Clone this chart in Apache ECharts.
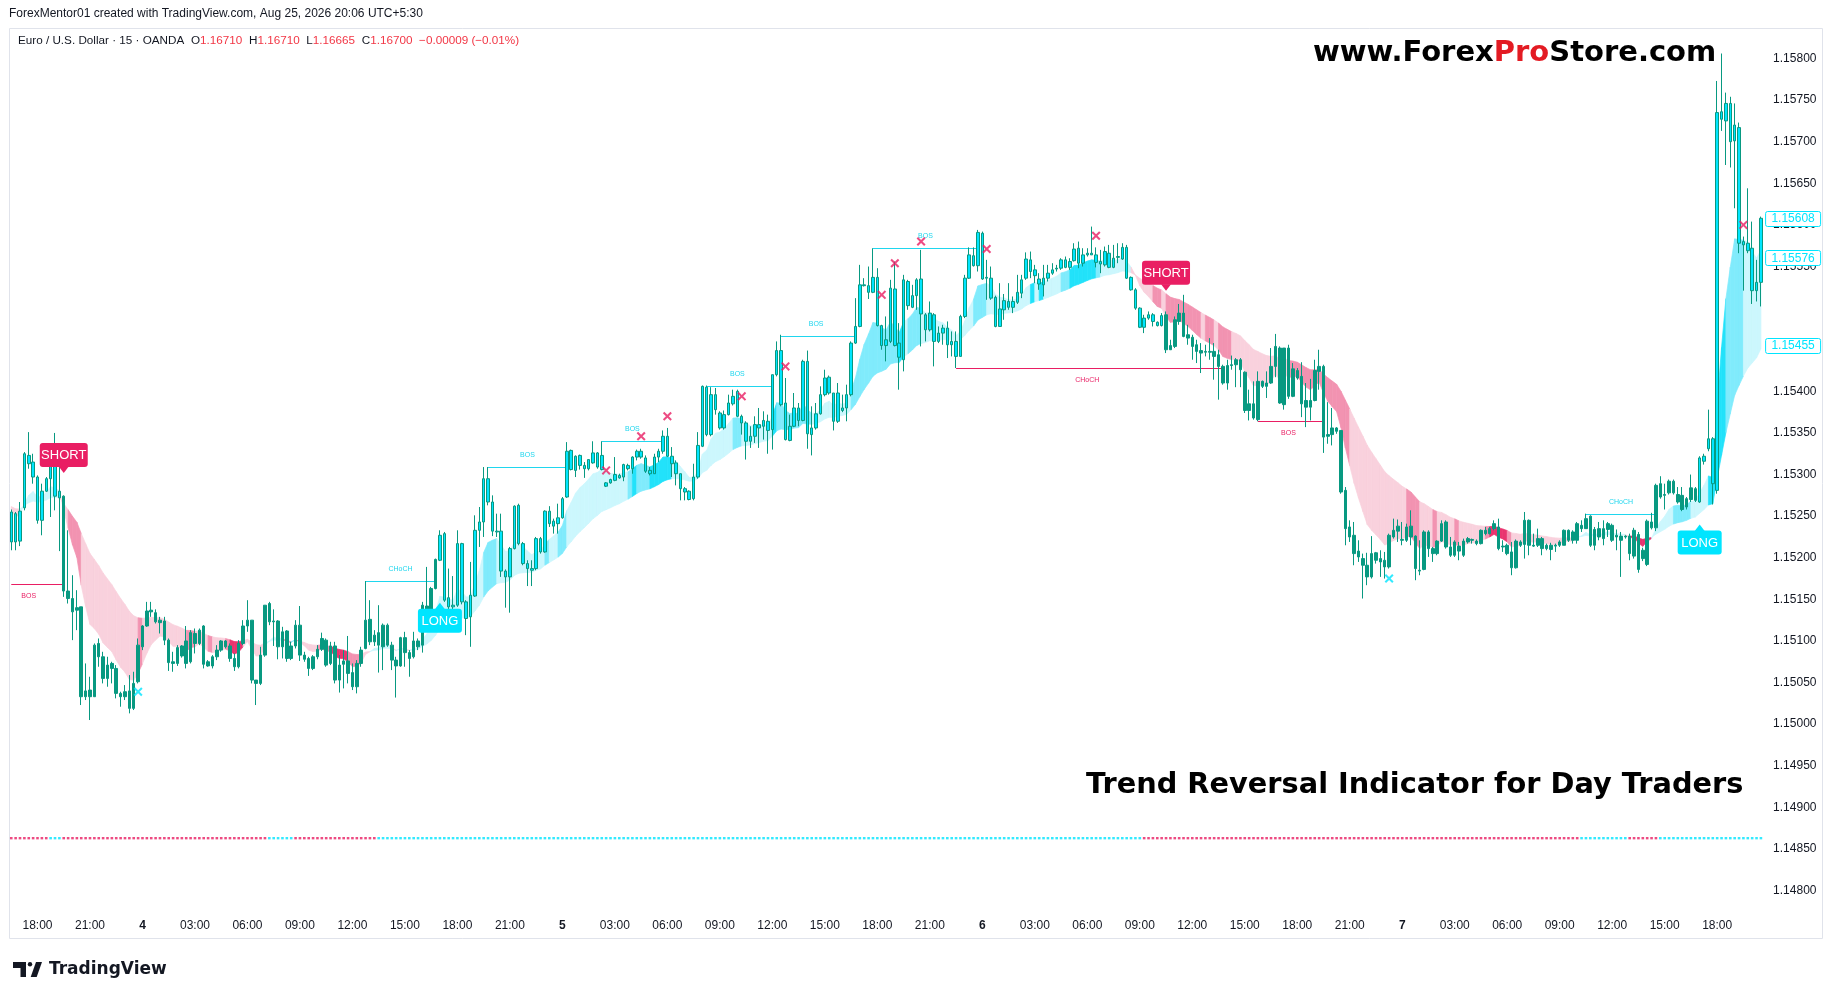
<!DOCTYPE html>
<html>
<head>
<meta charset="utf-8">
<script src="https://cdn.jsdelivr.net/npm/echarts@6/dist/echarts.min.js"></script>
<style>
html,body{margin:0;padding:0;background:#ffffff;}
#chart{width:1835px;height:1000px;}
</style>
</head>
<body>
<div id="chart"></div>
<script>
// ---------------- DATA (prices stored as points above 1.15000) ----------------
const opens = [
219,253,220,260,323,315,297,245,280,295, 317,280,274,160,151,137,141,33,41,33,
97,81,55,73,67,37,33,40,19,51, 93,118,135,134,122,124,101,75,73,94,
100,75,109,97,118,75,70,81,89,100, 94,79,69,97,118,125,53,49,83,145,
123,124,93,112,79,94,119,83,79,67, 81,90,101,73,94,53,72,76,62,45,
73,91,126,99,110,93,119,95,77,70, 104,86,81,100,95,142,138,163,197,229,
152,141,143,217,147,129,154,233,243,295, 267,232,232,184,177,211,263,217,193,187,
187,223,207,256,238,241,248,273,329,305, 323,311,307,314,326,306,286,290,293,299,
297,311,307,321,328,320,305,301,321,328, 346,322,314,301,283,280,271,297,334,405,
348,396,374,356,372,385,400,370,362,340, 346,360,358,364,354,420,449,386,341,358,
380,365,436,348,356,373,396,417,398,364, 380,380,396,458,478,527,527,519,537,479,
455,460,523,458,438,532,501,515,535,492, 474,492,460,470,476,456,460,442,490,536,
563,551,590,537,536,513,478,498,508,501, 507,518,536,558,546,535,528,536,542,547,
548,558,549,557,572,554,564,566,564,556, 552,566,549,562,559,573,537,522,500,477,
488,492,483,479,492,450,454,484,494,468, 465,456,449,447,448,448,444,430,410,431,
432,438,423,377,385,366,412,406,410,430, 452,384,452,394,425,418,389,381,389,424,
430,346,348,356,353,281,237,227,208,199, 191,177,197,195,197,189,225,238,221,221,
238,226,184,186,231,211,205,220,243,213, 203,214,203,219,221,220,217,233,229,235,
237,213,215,207,188,219,216,245,214,215, 223,211,215,214,215,215,233,231,221,239,
235,250,215,235,223,234,239,225,221,225, 226,202,228,209,192,243,236,289,275,278,
292,276,275,261,270,283,267,316,331,343, 281,736,725,746,701,717,576,578,572,521,
531];
const closes = [
255,219,256,325,313,297,245,280,295,315, 274,272,160,151,135,140,33,40,33,95,
81,55,71,67,37,33,39,19,49,95, 118,136,137,123,125,101,74,73,92,82,
73,110,97,113,72,70,81,89,100,93, 79,69,97,118,125,53,49,83,143,123,
124,93,111,79,94,119,83,78,67,81, 90,103,71,94,53,71,76,61,45,73,
89,125,99,107,95,119,95,77,70,104, 86,79,100,93,143,138,163,198,227,149,
141,143,217,147,127,155,233,243,295,267, 232,231,184,177,211,262,217,193,187,185,
223,207,256,241,244,248,271,328,306,322, 311,307,318,326,309,323,290,294,300,296,
312,307,321,328,321,304,301,321,328,346, 322,313,301,283,279,270,297,335,406,348,
396,378,356,372,386,394,370,362,340,346, 360,356,365,353,420,449,384,342,358,380,
365,436,349,356,373,396,416,398,364,398, 377,396,458,478,528,528,519,537,479,455,
462,524,455,441,534,503,515,534,493,474, 494,460,470,476,456,460,442,490,536,564,
551,591,535,536,512,478,499,509,501,508, 519,534,559,544,539,529,536,542,546,548,
558,549,556,571,554,564,566,564,555,553, 568,549,560,561,573,536,522,500,477,488,
492,484,479,491,450,455,486,494,466,464, 454,448,446,448,447,442,430,410,431,432,
438,426,377,385,368,412,406,410,430,454, 386,452,394,427,416,385,381,389,425,430,
345,348,356,352,279,235,225,205,201,191, 177,205,206,199,189,227,233,232,222,237,
225,187,185,231,211,205,220,241,213,203, 219,208,220,223,222,217,233,229,235,241,
211,214,205,188,220,215,245,215,215,223, 211,215,210,215,219,233,221,221,241,235,
247,215,234,225,235,241,221,227,226,226, 205,233,186,199,244,236,287,273,276,292,
278,267,258,271,284,269,320,322,343,289, 735,727,746,700,720,578,580,569,521,531,
608];
const highs = [
258,255,267,327,351,325,299,289,297,325, 350,313,275,233,179,161,141,73,57,97,
103,87,81,75,71,39,47,59,63,103, 119,147,147,138,129,129,103,87,95,95,
118,113,115,115,119,77,83,95,101,101, 97,85,101,125,149,125,53,93,143,147,
138,125,117,113,99,125,142,87,81,83, 95,110,103,99,99,83,89,106,73,77,
93,172,149,113,143,121,121,99,81,105, 111,89,111,103,147,189,165,199,233,231,
187,178,233,218,149,195,251,261,309,309, 275,253,253,186,213,263,265,219,197,197,
225,225,257,262,247,265,273,339,330,323, 324,315,318,340,327,340,291,295,321,301,
313,313,322,330,331,323,309,325,331,353, 356,333,317,301,285,281,313,351,407,407,
405,404,376,377,396,402,402,372,364,358, 370,380,376,372,420,460,468,416,372,398,
386,438,449,382,386,406,426,419,398,410, 396,408,460,512,552,536,550,572,548,480,
490,534,556,482,540,534,528,536,570,494, 508,494,478,480,484,472,472,492,540,573,
573,594,592,558,550,515,530,517,530,514, 540,540,567,568,552,542,552,552,554,552,
560,562,560,578,580,572,572,598,573,570, 574,576,576,578,578,576,538,524,501,492,
496,494,484,494,496,462,490,505,516,480, 468,462,458,456,464,458,450,432,438,443,
440,440,424,402,412,424,413,424,452,469, 454,452,456,434,428,435,410,415,438,450,
432,387,380,357,353,285,245,243,221,205, 206,226,207,209,207,229,247,246,243,241,
257,227,221,233,233,213,221,245,245,225, 221,219,223,225,223,222,234,237,237,245,
247,221,217,219,222,221,255,246,229,235, 225,217,218,217,221,234,234,233,243,245,
253,251,237,243,245,243,241,234,231,227, 229,236,231,212,246,254,289,298,289,294,
294,285,285,273,300,285,322,325,378,345, 773,806,759,754,746,723,586,644,604,558,
610];
const lows = [
209,209,214,257,307,289,241,227,279,249, 257,208,153,145,101,113,23,29,5,33,
69,49,45,49,31,21,29,13,17,49, 89,117,129,121,109,95,64,63,70,80,
67,73,85,95,67,69,67,77,87,91, 75,64,67,95,111,49,23,47,81,119,
94,78,79,75,77,91,76,75,58,65, 78,88,69,71,49,38,43,49,41,37,
69,90,95,94,62,65,93,65,32,69, 69,57,79,89,86,113,113,162,196,147,
137,138,141,144,107,93,153,213,225,263, 226,225,177,140,134,210,215,191,166,166,
185,205,206,237,229,229,247,272,305,297, 306,296,305,313,307,305,285,289,292,295,
292,305,301,317,319,302,299,301,315,325, 321,297,287,269,269,269,269,295,333,346,
346,372,354,354,371,383,369,348,318,332, 338,332,342,325,330,418,382,341,340,357,
358,364,331,323,354,372,394,396,353,362, 375,364,394,457,477,526,511,518,478,450,
436,458,454,402,424,498,500,498,454,460, 472,430,458,456,440,442,428,442,488,535,
550,544,534,510,510,477,478,486,498,494, 505,512,534,536,530,522,514,532,540,544,
546,548,546,556,548,550,562,564,549,542, 550,548,548,554,558,535,521,498,476,470,
486,478,478,478,446,450,452,480,465,456, 438,434,422,442,438,414,390,408,402,426,
405,405,374,365,366,364,404,392,409,417, 385,378,391,393,414,369,357,365,388,402,
326,337,335,349,277,215,219,191,195,151, 167,175,193,177,175,187,223,219,215,219,
215,173,179,185,201,195,203,219,211,201, 201,197,201,217,217,215,216,227,228,233,
209,207,203,179,187,213,199,203,213,213, 203,209,197,207,213,215,219,217,217,231,
235,213,209,221,215,225,219,209,177,223, 197,199,182,196,190,234,232,271,258,276,
276,265,256,258,267,267,266,312,328,264, 277,713,672,669,620,566,521,566,505,508,
502];

// x-axis tick labels, one every 12 bars starting at bar 6
const xTickLabels = ['18:00','21:00','4','03:00','06:00','09:00','12:00','15:00','18:00','21:00','5',
  '03:00','06:00','09:00','12:00','15:00','18:00','21:00','6','03:00','06:00','09:00','12:00','15:00',
  '18:00','21:00','7','03:00','06:00','09:00','12:00','15:00','18:00'];

// indicator: EMA band
const emaFastLen = 9, emaSlowLen = 30;
const emaSeed = [258, 262];
const shadeMid = [[14,16],[30,30],[41,42],[46,46],[50,50],[63,66],[71,73],[78,80],[109,111],[123,123],
  [126,127],[142,142],[144,146],[166,167],[176,183],[193,203],[206,208],[221,223],[241,242],[249,249],
  [262,263],[265,272],[274,275],[277,279],[293,306],[320,322],[326,326],[331,331],[338,338],[343,343],
  [381,384],[393,396]];
const shadeStrong = [[51,53],[74,77],[143,143],[147,151],[175,175],[204,204],[234,234],[236,236],
  [243,248],[339,342],[371,375],[389,392]];

// signals
const shortSignalIdx = [12, 264];
const shortSignalPrice = [1.15302, 1.15521];
const longSignalIdx = [98, 386];
const longSignalPrice = [1.15146, 1.15240];

// cross markers
const pinkCrossIdx = [136,144,150,167,177,199,202,208,223,248,396];
const pinkCrossPrice = [1.15305,1.15346,1.15370,1.15394,1.15430,1.15516,1.15554,1.15580,1.15571,1.15587,1.15600];
const cyanCrossIdx = [29, 315];
const cyanCrossPrice = [1.15039, 1.15175];

// structure breaks
const structStart = [0, 81, 109, 135, 159, 176, 197, 216, 285, 360];
const structEnd   = [12, 97, 127, 149, 174, 193, 221, 277, 300, 376];
const structPrice = [1.15168,1.15172,1.15309,1.15340,1.15406,1.15467,1.15572,1.15428,1.15364,1.15253];
const structText  = ['BOS','CHoCH','BOS','BOS','BOS','BOS','BOS','CHoCH','BOS','CHoCH'];
const structDir   = [-1, 1, 1, 1, 1, 1, 1, -1, -1, 1];
const structLabelIdx = [4, 89, 118, 142, 166, 184, 209, 246, 292, 368];

// trend dots
const dotLevel = 1.14863;
const dotSegStart = [0, 9, 12, 59, 65, 84, 259, 359, 370, 377];
const dotSegDir   = [-1, 1, -1, 1, -1, 1, -1, 1, -1, 1];

// right axis value tags
const tagValues = [1.15608, 1.15576, 1.15455];

// ---------------- STYLE ----------------
const FONT = '"Liberation Sans", Arial, sans-serif';
const TEAL = '#089981', RED = '#f23645', CYAN = '#00e5ff', PINK = '#e91e63', CYAN_LINE = '#1fd6ee';
const BAND = { '1': ['#ccf7fd', '#80ebfc', '#22e2fa'], '-1': ['#f9d1dd', '#f293b1', '#e9346f'] };
const tagNudgePx = [0, 13, 0];

// ---------------- BUILD ----------------
const N = closes.length;
const px = p => 1.15 + p / 100000;
const cats = closes.map((_, i) => String(i));

const trend = [];
{
  let st = 1;
  for (let i = 0; i < N; i++) {
    if (shortSignalIdx.includes(i)) st = -1;
    if (longSignalIdx.includes(i)) st = 1;
    trend.push(st);
  }
}
const UP_STYLE = { color: CYAN, color0: CYAN, borderColor: TEAL, borderColor0: RED, borderWidth: 1 };
const DN_STYLE = { color: TEAL, color0: RED, borderColor: TEAL, borderColor0: RED, borderWidth: 1 };
const candleData = closes.map((c, i) => ({
  value: [px(opens[i]), px(c), px(lows[i]), px(highs[i])],
  itemStyle: trend[i] > 0 ? UP_STYLE : DN_STYLE
}));

const fast = [], slow = [];
{
  let f = emaSeed[0], s = emaSeed[1];
  for (let i = 0; i < N; i++) {
    f += (closes[i] - f) * 2 / (emaFastLen + 1);
    s += (closes[i] - s) * 2 / (emaSlowLen + 1);
    fast.push(f); slow.push(s);
  }
}
const inRanges = (i, rs) => rs.some(r => i >= r[0] && i <= r[1]);
const bandData = [];
for (let i = 1; i < N; i++) {
  const dir = fast[i] >= slow[i] ? 1 : -1;
  const lvl = inRanges(i, shadeStrong) ? 2 : (inRanges(i, shadeMid) ? 1 : 0);
  bandData.push([i, px(fast[i - 1]), px(fast[i]), px(slow[i - 1]), px(slow[i]), dir, lvl]);
}

const dotData = [];
for (let k = 0; k < dotSegStart.length; k++) {
  const end = k + 1 < dotSegStart.length ? dotSegStart[k + 1] : N;
  for (let i = dotSegStart[k]; i < end; i++) {
    dotData.push({ value: [i, dotLevel], itemStyle: { color: dotSegDir[k] > 0 ? CYAN : PINK } });
  }
}

const crossData = pinkCrossIdx.map((x, k) => ({ value: [x, pinkCrossPrice[k]], itemStyle: { color: PINK } }))
  .concat(cyanCrossIdx.map((x, k) => ({ value: [x, cyanCrossPrice[k]], itemStyle: { color: CYAN } })));

const signalData = shortSignalIdx.map((x, k) => [x, shortSignalPrice[k], -1])
  .concat(longSignalIdx.map((x, k) => [x, longSignalPrice[k], 1]));

const structData = structStart.map((s, k) => [s, structEnd[k], structPrice[k], structLabelIdx[k], structDir[k]]);

const CROSS = 'path://M1.6,0 L5,3.4 L8.4,0 L10,1.6 L6.6,5 L10,8.4 L8.4,10 L5,6.6 L1.6,10 L0,8.4 L3.4,5 L0,1.6 Z';

const chart = echarts.init(document.getElementById('chart'), null, { renderer: 'canvas' });

const option = {
  backgroundColor: '#ffffff',
  animation: false,
  grid: { left: 9.07, right: 71.9, top: 16.9, bottom: 67.8, containLabel: false, outerBoundsMode: 'none' },
  xAxis: {
    type: 'category',
    data: cats,
    boundaryGap: true,
    axisLine: { show: false },
    axisTick: { show: false },
    splitLine: { show: false },
    axisLabel: {
      margin: -13,
      interval: (idx) => idx >= 6 && (idx - 6) % 12 === 0,
      formatter: (val) => {
        const idx = +val;
        const t = xTickLabels[(idx - 6) / 12];
        if (t === undefined) return '';
        return t.indexOf(':') < 0 ? '{b|' + t + '}' : t;
      },
      color: '#131722',
      fontSize: 12,
      fontFamily: FONT,
      rich: { b: { fontWeight: 'bold', fontSize: 12, color: '#131722', fontFamily: FONT } }
    }
  },
  yAxis: {
    type: 'value',
    position: 'right',
    min: 1.1475,
    max: 1.1585,
    interval: 0.0005,
    scale: true,
    axisLine: { show: false },
    axisTick: { show: false },
    splitLine: { show: false },
    axisLabel: {
      margin: 10,
      showMinLabel: false,
      showMaxLabel: false,
      color: '#131722',
      fontSize: 12,
      fontFamily: FONT,
      formatter: (v) => (Math.abs(v - 1.155) < 1e-7 ? '' : v.toFixed(5))
    }
  },
  series: [
    {
      name: 'band', type: 'custom', z: 1, silent: true,
      data: bandData,
      encode: { x: 0, y: [1, 2, 3, 4] },
      renderItem: (params, api) => {
        const i = api.value(0);
        const a = api.coord([i - 1, api.value(1)]);
        const b = api.coord([i, api.value(2)]);
        const c = api.coord([i, api.value(4)]);
        const d = api.coord([i - 1, api.value(3)]);
        const col = BAND[String(api.value(5))][api.value(6)];
        return { type: 'polygon', shape: { points: [a, b, c, d] }, style: { fill: col, stroke: col, lineWidth: 0.7 } };
      }
    },
    {
      name: 'structure', type: 'custom', z: 2, silent: true,
      data: structData,
      encode: { x: [0, 1], y: 2 },
      renderItem: (params, api) => {
        const price = api.value(2), dir = api.value(4);
        const a = api.coord([api.value(0), price]);
        const b = api.coord([api.value(1), price]);
        const m = api.coord([api.value(3), price]);
        const col = dir > 0 ? CYAN_LINE : PINK;
        const y = Math.round(a[1]) + 0.5;
        return {
          type: 'group', children: [
            { type: 'line', shape: { x1: a[0], y1: y, x2: b[0], y2: y }, style: { stroke: col, lineWidth: 1 } },
            { type: 'text', x: m[0], y: y + (dir > 0 ? -12 : 12),
              style: { text: structText[params.dataIndex], fill: col, font: '7px ' + FONT, align: 'center', verticalAlign: 'middle' } }
          ]
        };
      }
    },
    {
      name: 'EURUSD', type: 'candlestick', z: 3,
      barWidth: 3,
      data: candleData
    },
    {
      name: 'dots', type: 'scatter', z: 3, silent: true,
      symbol: 'rect', symbolSize: [2.6, 2.4],
      data: dotData
    },
    {
      name: 'crosses', type: 'scatter', z: 4, silent: true,
      symbol: CROSS, symbolSize: 9,
      data: crossData
    },
    {
      name: 'signals', type: 'custom', z: 5, silent: true,
      data: signalData,
      encode: { x: 0, y: 1 },
      renderItem: (params, api) => {
        const p = api.coord([api.value(0), api.value(1)]);
        const dir = api.value(2);
        const w = dir < 0 ? 48 : 44, h = 24, tri = 6;
        const col = dir < 0 ? PINK : CYAN;
        const text = dir < 0 ? 'SHORT' : 'LONG';
        let ry, pts;
        if (dir < 0) {
          ry = p[1] - tri - h;
          pts = [[p[0] - 5, p[1] - tri - 0.5], [p[0] + 5, p[1] - tri - 0.5], [p[0], p[1]]];
        } else {
          ry = p[1] + tri;
          pts = [[p[0] - 5, p[1] + tri + 0.5], [p[0] + 5, p[1] + tri + 0.5], [p[0], p[1]]];
        }
        return {
          type: 'group', children: [
            { type: 'rect', shape: { x: p[0] - w / 2, y: ry, width: w, height: h, r: 3 }, style: { fill: col } },
            { type: 'polygon', shape: { points: pts }, style: { fill: col } },
            { type: 'text', x: p[0], y: ry + h / 2 + 0.5,
              style: { text: text, fill: '#ffffff', font: '13px ' + FONT, align: 'center', verticalAlign: 'middle' } }
          ]
        };
      }
    },
    {
      name: 'tags', type: 'custom', z: 6, silent: true, clip: false,
      data: tagValues.map(v => [N - 1, v]),
      encode: { x: 0, y: 1 },
      renderItem: (params, api) => {
        const cs = params.coordSys;
        const y = api.coord([api.value(0), api.value(1)])[1] + tagNudgePx[params.dataIndex];
        const x = cs.x + cs.width + 2;
        return {
          type: 'group', children: [
            { type: 'rect', shape: { x: x + 0.5, y: Math.round(y - 7.5) + 0.5, width: 55, height: 15, r: 2 },
              style: { fill: '#ffffff', stroke: CYAN, lineWidth: 1 } },
            { type: 'text', x: x + 28, y: y + 0.5,
              style: { text: tagValues[params.dataIndex].toFixed(5), fill: CYAN, font: '12px ' + FONT, align: 'center', verticalAlign: 'middle' } }
          ]
        };
      }
    }
  ],
  graphic: [
    { type: 'rect', silent: true, z: -10, shape: { x: 9.5, y: 28.5, width: 1813, height: 910 },
      style: { fill: 'none', stroke: '#e0e3eb', lineWidth: 1 } },
    { type: 'text', silent: true, x: 9, y: 14,
      style: { text: 'ForexMentor01 created with TradingView.com, Aug 25, 2026 20:06 UTC+5:30', fill: '#131722',
        font: '12px ' + FONT, verticalAlign: 'middle' } },
    { type: 'text', silent: true, x: 18, y: 41,
      style: {
        text: '{k|Euro / U.S. Dollar · 15 · OANDA}  {k|O}{v|1.16710}  {k|H}{v|1.16710}  {k|L}{v|1.16665}  {k|C}{v|1.16700}  {v|−0.00009 (−0.01%)}',
        verticalAlign: 'middle',
        rich: {
          k: { fill: '#131722', font: '11.7px ' + FONT },
          v: { fill: RED, font: '11.7px ' + FONT }
        }
      } },
    { type: 'text', silent: true, x: 1313, y: 53,
      style: {
        text: '{k|www.Forex}{r|Pro}{k|Store.com}',
        verticalAlign: 'middle',
        rich: {
          k: { fill: '#000000', font: 'bold 29px "DejaVu Sans"' },
          r: { fill: '#e31b23', font: 'bold 29px "DejaVu Sans"' }
        }
      } },
    { type: 'text', silent: true, x: 1086, y: 786,
      style: { text: 'Trend Reversal Indicator for Day Traders', fill: '#000000', font: 'bold 28.8px "DejaVu Sans"', verticalAlign: 'middle' } },
    { type: 'group', silent: true, children: [
      { type: 'polygon', shape: { points: [[13, 962], [26, 962], [26, 977], [20.5, 977], [20.5, 968], [13, 968]] }, style: { fill: '#131722' } },
      { type: 'circle', shape: { cx: 30, cy: 964.2, r: 2.2 }, style: { fill: '#131722' } },
      { type: 'polygon', shape: { points: [[36, 962], [42, 962], [36.7, 977], [30.7, 977]] }, style: { fill: '#131722' } },
      { type: 'text', x: 49, y: 970, style: { text: 'TradingView', fill: '#131722', font: 'bold 17px "DejaVu Sans"', verticalAlign: 'middle' } }
    ] }
  ]
};

chart.setOption(option);
</script>
</body>
</html>
